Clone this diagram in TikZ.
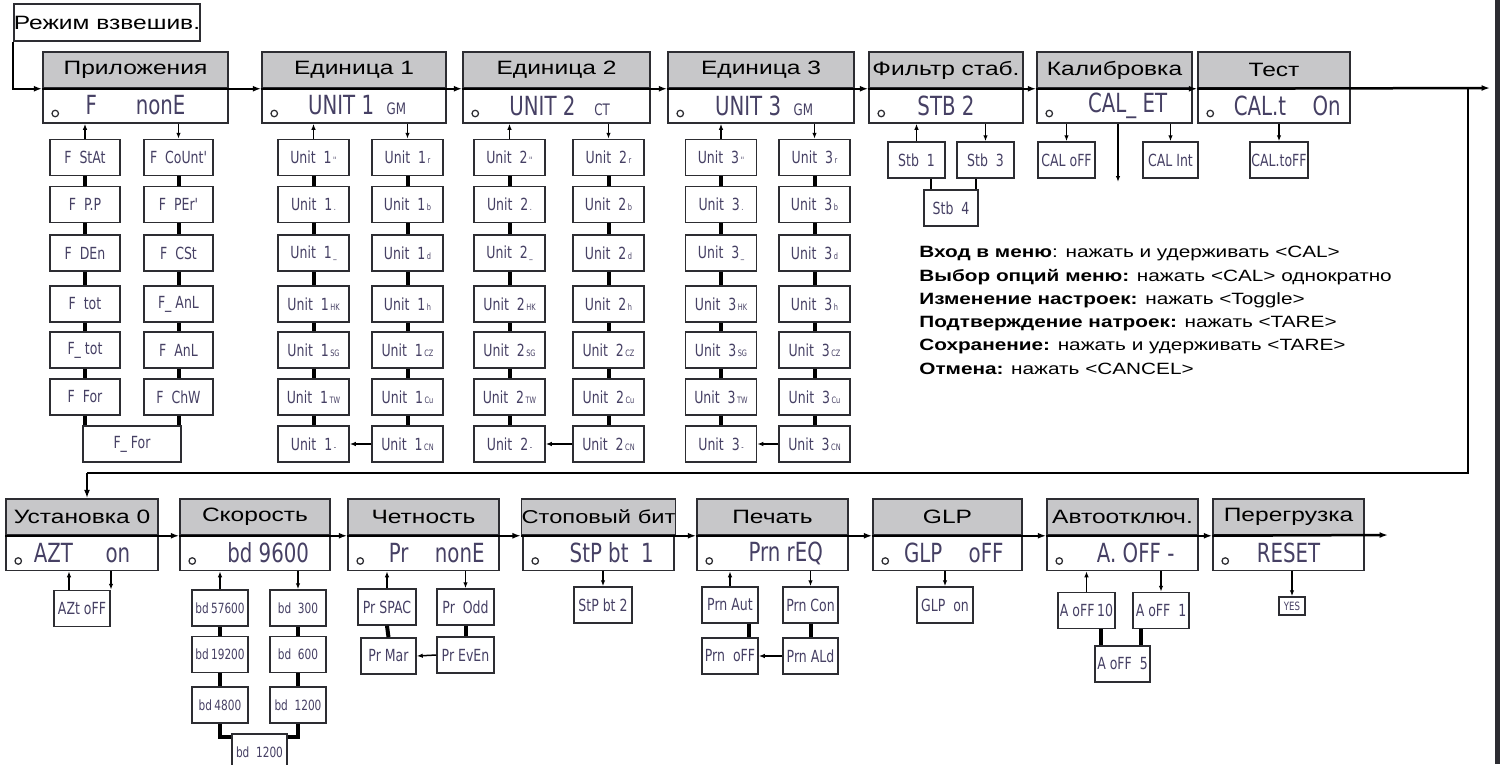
\documentclass[tikz,border=0pt]{standalone}
\usepackage{fontspec}
\setmainfont{Liberation Sans}
\newfontfamily\hdrfont[FakeStretch=1.27]{Liberation Sans}
\newfontfamily\lcdfont[FakeStretch=0.75]{DejaVu Sans}
\usetikzlibrary{calc,positioning,arrows.meta}

\definecolor{hdrgray}{RGB}{199,199,201}
\definecolor{lcdink}{RGB}{70,64,100}
\definecolor{boxline}{RGB}{45,45,50}
\newcommand{\pxl}{0.02cm}

\tikzset{
  hdr/.style={draw=boxline, line width=0.03cm, fill=hdrgray, inner sep=0pt,
    minimum width=#1*\pxl, minimum height=36*\pxl,
    font=\hdrfont\fontsize{11}{12}\selectfont},
  valbox/.style={draw=boxline, line width=0.03cm, fill=white, inner sep=0pt,
    minimum width=#1*\pxl, minimum height=35*\pxl, text=lcdink,
    font=\lcdfont\fontsize{15}{17}\selectfont},
  sub/.style={draw=boxline, line width=0.03cm, fill=white, inner sep=0pt,
    minimum width=#1*\pxl, minimum height=36*\pxl, text=lcdink,
    font=\lcdfont\fontsize{9.5}{10}\selectfont},
  sub/.default=70,
  bdfont/.style={font=\lcdfont\fontsize{8}{9}\selectfont},
  flow/.style={line width=0.05cm, -{Latex[length=0.17cm,width=0.12cm]}},
  tick/.style={line width=0.03cm, -{Latex[length=0.12cm,width=0.09cm]}},
  bar/.style={line width=0.08cm}
}

\begin{document}
\begin{tikzpicture}[x=0.02cm,y=-0.02cm]
  % frame of the picture, in pixels of the scheme
  \useasboundingbox (0,0) rectangle (1500,764);
  \clip (0,0) rectangle (1500,764);
  \fill[white] (0,0) rectangle (1500,764);
  \draw[line width=0.09cm, boxline] (1497.7,0) -- (1497.7,764);

  % start
  \node[draw=boxline, line width=0.03cm, minimum width=186*\pxl, minimum height=37*\pxl, inner sep=0pt,
        font=\hdrfont\fontsize{11}{12}\selectfont] (mode) at (107,22.5) {Режим взвешив.};

  % upper row of menus
  \node[hdr=185] (h1) at (135.5,70) {Приложения};
  \node[valbox=185] (v1) at (135.5,105.5) {F\quad\ \ nonE};
  \node[hdr=184] (h2) at (354,70) {Единица 1};
  \node[valbox=184] (v2) at (354,105.5) {\ UNIT 1\ \ {\small GM}};
  \node[hdr=187] (h3) at (556.5,70) {Единица 2};
  \node[valbox=187] (v3) at (556.5,105.5) {\ UNIT 2\ \ \ {\small CT}};
  \node[hdr=186] (h4) at (761,70) {Единица 3};
  \node[valbox=186] (v4) at (761,105.5) {\ UNIT 3\ \ {\small GM}};
  \node[hdr=154] (h5) at (946,70) {Фильтр стаб.};
  \node[valbox=154] (v5) at (946,105.5) {STB 2};
  \node[hdr=155] (h6) at (1114.5,70) {Калибровка};
  \node[valbox=155] (v6) at (1114.5,105.5) {\quad CAL\_ ET};
  \node[hdr=152] (h7) at (1274,70) {Тест};
  \node[valbox=152] (v7) at (1274,105.5) {\quad CAL.t\quad On};

  % lower row of menus
  \node[hdr=152] (b1) at (82,517) {Установка 0};
  \node[valbox=152] (w1) at (82,553) {AZT\quad\ on};
  \node[hdr=150] (b2) at (255,517) {Скорость};
  \node[valbox=150] (w2) at (255,553) {\quad bd 9600};
  \node[hdr=151] (b3) at (423.5,517) {Четность};
  \node[valbox=151] (w3) at (423.5,553) {\quad Pr\quad nonE};
  \node[hdr=151, font=\hdrfont\fontsize{10.6}{12}\selectfont] (b4) at (598.5,517) {Стоповый бит};
  \node[valbox=151] (w4) at (598.5,553) {\quad StP bt\ \ 1};
  \node[hdr=151] (b5) at (772.5,517) {Печать};
  \node[valbox=151] (w5) at (772.5,553) {\quad Prn\ rEQ};
  \node[hdr=149] (b6) at (947.5,517) {GLP};
  \node[valbox=149] (w6) at (947.5,553) {\ \ GLP\quad oFF};
  \node[hdr=151] (b7) at (1122.5,517) {Автоотключ.};
  \node[valbox=151] (w7) at (1122.5,553) {\quad A. OFF -};
  \node[hdr=151] (b8) at (1288.5,517) {Перегрузка};
  \node[valbox=151] (w8) at (1288.5,553) {RESET};

  % small circle at the left of each display
  \foreach \v in {v1,v2,v3,v4,v5,v6,v7,w1,w2,w3,w4,w5,w6,w7,w8}
    \draw[boxline, line width=0.025cm] ($(\v.west)+(13,8)$) circle (0.065cm);

  % main flow
  \draw[flow] (mode.south west) |- (h1.south west);
  \foreach \a/\b in {h1/h2,h2/h3,h3/h4,h4/h5,h5/h6,h6/h7}
    \draw[flow] (\a.south west) -- (\b.south west);
  \coordinate (topEnd) at (1490,88);
  \coordinate (turnR) at (1468,88);
  \coordinate (turnL) at (87,473);
  \draw[flow] (h7.south west) -- (topEnd);
  \draw[line width=0.05cm] (turnR) |- (turnL);
  \draw[flow] (turnL) -- (turnL |- b1.north);
  \foreach \a/\b in {b1/b2,b2/b3,b3/b4,b4/b5,b5/b6,b6/b7,b7/b8}
    \draw[flow] (\a.south west) -- (\b.south west);
  \coordinate (botEnd) at (1388,535);
  \draw[flow] (b8.south west) -- (botEnd);

  % Приложения
  \foreach \y/\ta/\tb [count=\i] in {157.5/F\ \ StAt/F\ \ CoUnt',204.5/F\ \ P.P/F\ \ PEr',
      253/F\ \ DEn/F\ \ CSt,304/F\ \ tot/F\_\ AnL,350/F\_\ tot/F\ \ AnL,397/F\ \ For/F\ \ ChW}{
    \node[sub] (pa\i) at (85,\y) {\ta};
    \node[sub=69] (pb\i) at (178.5,\y) {\tb};
  }
  \node[sub=98] (pf) at (132,444) {F\_\ For};
  \foreach \i/\j in {1/2,2/3,3/4,4/5,5/6}{
    \draw[bar] (pa\i.south) -- (pa\j.north);
    \draw[bar] (pb\i.south) -- (pb\j.north);
  }
  \draw[bar] (pa6.south) -- (pa6.south |- pf.north);
  \draw[bar] (pb6.south) -- (pb6.south |- pf.north);
  \draw[tick] (pa1.north) -- (pa1.north |- v1.south);
  \draw[tick] (pb1.north |- v1.south) -- (pb1.north);

  % Единица 1, 2, 3
  \foreach \blk/\xa/\xb/\v in {1/313.5/407.5/v2,2/509.5/608.5/v3,3/721/814.5/v4}{
    \foreach \y/\sa/\sb [count=\i] in {157.5/''/r,204.5/./b,253/\_/d,304/HK/h,350/SG/CZ,397/TW/Cu,444/-/CN}{
      \node[sub=71] (u\blk a\i) at (\xa,\y) {Unit\ \ \blk{\tiny\,\sa}};
      \node[sub=71] (u\blk b\i) at (\xb,\y) {Unit\ \ \blk{\tiny\,\sb}};
    }
    \foreach \i/\j in {1/2,2/3,3/4,4/5,5/6,6/7}{
      \draw[bar] (u\blk a\i.south) -- (u\blk a\j.north);
      \draw[bar] (u\blk b\i.south) -- (u\blk b\j.north);
    }
    \draw[tick] (u\blk a1.north) -- (u\blk a1.north |- \v.south);
    \draw[tick] (u\blk b1.north |- \v.south) -- (u\blk b1.north);
    \draw[tick] (u\blk b7.west) -- (u\blk a7.east);
  }

  % Фильтр стаб.
  \node[sub=57] (f1) at (916.5,160) {Stb\ \ 1};
  \node[sub=57] (f3) at (985.5,160) {Stb\ \ 3};
  \node[sub=54] (f4) at (951,208) {Stb\ \ 4};
  \draw[tick] (f1.north) -- (f1.north |- v5.south);
  \draw[tick] (f3.north |- v5.south) -- (f3.north);
  \coordinate (f1j) at ($(f1.south)+(14,0)$);
  \coordinate (f3j) at ($(f3.south)+(-10,0)$);
  \draw[line width=0.04cm] (f1j) -- (f1j |- f4.north);
  \draw[line width=0.04cm] (f3j) -- (f3j |- f4.north);

  % Калибровка
  \node[sub=57] (c1) at (1066.5,160) {CAL\ oFF};
  \node[sub=55] (c2) at (1170.5,160) {CAL\ Int};
  \coordinate (calDn) at (1118,182);
  \draw[tick] (c1.north |- v6.south) -- (c1.north);
  \draw[tick] (c2.north |- v6.south) -- (c2.north);
  \draw[tick] (calDn |- v6.south) -- (calDn);

  % Тест
  \node[sub=58] (e1) at (1279,160) {CAL.toFF};
  \draw[tick] (e1.north |- v7.south) -- (e1.north);

  % legend
  \node[anchor=north west, align=left, inner sep=0pt,
        font=\hdrfont\fontsize{9.3}{13.25}\selectfont] (legend) at (919,246) {%
    \textbf{Вход в меню}: нажать и удерживать <CAL>\\
    \textbf{Выбор опций меню:} нажать <CAL> однократно\\
    \textbf{Изменение настроек:} нажать <Toggle>\\
    \textbf{Подтверждение натроек:} нажать <TARE>\\
    \textbf{Сохранение:} нажать и удерживать <TARE>\\
    \textbf{Отмена:} нажать <CANCEL>};

  % Установка 0
  \node[sub=56] (z1) at (82,608.5) {AZt\ oFF};
  \coordinate (zU) at ($(z1.north)+(-13,0)$);
  \coordinate (zD) at ($(z1.north)+(29,0)$);
  \draw[tick] (zU) -- (zU |- w1.south);
  \draw[tick] (zD |- w1.south) -- (zD);

  % Скорость
  \foreach \y/\ta/\tb [count=\i] in {608/bd\,57600/bd\ \ 300,654.5/bd\,19200/bd\ \ 600,705/bd\,4800/bd\ \ 1200}{
    \node[sub=56, bdfont] (k\i) at (220,\y) {\ta};
    \node[sub=56, bdfont] (m\i) at (298,\y) {\tb};
  }
  \node[sub=55, bdfont] (kb) at (259.5,752) {bd\ \ 1200};
  \foreach \i/\j in {1/2,2/3}{
    \draw[bar] (k\i.south) -- (k\j.north);
    \draw[bar] (m\i.south) -- (m\j.north);
  }
  \coordinate (kbl) at ($(kb.north west)+(0,4)$);
  \coordinate (kbr) at ($(kb.north east)+(0,4)$);
  \draw[bar] (k3.south) |- (kbl);
  \draw[bar] (m3.south) |- (kbr);
  \draw[tick] (k1.north) -- (k1.north |- w2.south);
  \draw[tick] (m1.north |- w2.south) -- (m1.north);

  % Четность
  \node[sub=58] (q1) at (387,607) {Pr\ SPAC};
  \node[sub=55] (q2) at (388.5,656) {Pr\ Mar};
  \node[sub=57] (r1) at (465.5,607) {Pr\ \ Odd};
  \node[sub=57] (r2) at (465.5,655) {Pr\ EvEn};
  \draw[bar] (q1.south) -- (q2.north);
  \draw[bar] (r1.south) -- (r2.north);
  \draw[tick] (q1.north) -- (q1.north |- w3.south);
  \draw[tick] (r1.north |- w3.south) -- (r1.north);
  \draw[tick] (r2.west) -- (q2.east);

  % Стоповый бит
  \node[sub=58] (t1) at (603,605) {StP\ bt\ 2};
  \draw[tick] (t1.north |- w4.south) -- (t1.north);

  % Печать
  \node[sub=56] (pr1) at (730,605) {Prn\ Aut};
  \node[sub=56] (pr2) at (730,656) {Prn\ \ oFF};
  \node[sub=55] (pc1) at (810.5,605) {Prn\ Con};
  \node[sub=55] (pc2) at (810.5,656) {Prn\ ALd};
  \coordinate (prj) at ($(pr1.south)+(19,0)$);
  \draw[bar] (prj) -- (prj |- pr2.north);
  \draw[bar] (pc1.south) -- (pc2.north);
  \draw[tick] (pr1.north) -- (pr1.north |- w5.south);
  \draw[tick] (pc1.north |- w5.south) -- (pc1.north);
  \draw[tick] (pc2.west) -- (pr2.east);

  % GLP
  \node[sub=56] (g1) at (945,605) {GLP\ \ on};
  \draw[tick] (g1.north |- w6.south) -- (g1.north);

  % Автоотключ.
  \node[sub=57] (a1) at (1086.5,610.5) {A\ oFF\,10};
  \node[sub=56] (a2) at (1161,610.5) {A\ oFF\ \ 1};
  \node[sub=55] (a3) at (1122.5,664) {A\ oFF\ \ 5};
  \coordinate (a1j) at ($(a1.south)+(14,0)$);
  \coordinate (a2j) at ($(a2.south)+(-20,0)$);
  \draw[bar] (a1j) -- (a1j |- a3.north);
  \draw[bar] (a2j) -- (a2j |- a3.north);
  \draw[tick] (a1.north) -- (a1.north |- w7.south);
  \draw[tick] (a2.north |- w7.south) -- (a2.north);

  % Перегрузка
  \node[sub=26, minimum height=18*\pxl, font=\lcdfont\fontsize{6.5}{7}\selectfont] (yes) at (1292,606) {YES};
  \draw[tick] (yes.north |- w8.south) -- (yes.north);
\end{tikzpicture}
\end{document}
